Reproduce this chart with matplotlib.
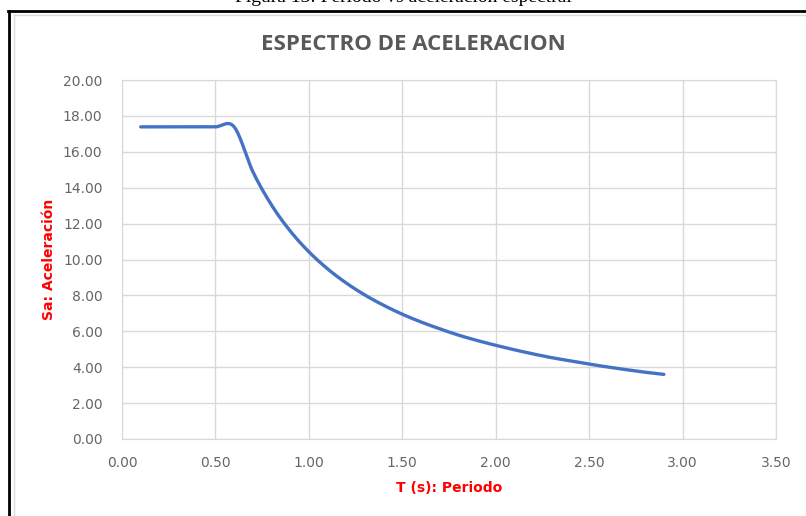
import numpy as np
import matplotlib.pyplot as plt
from matplotlib.lines import Line2D

# periodo T (s) y aceleracion espectral Sa
periodo = [0.1, 0.2, 0.3, 0.4, 0.5, 0.6, 0.7, 0.8, 0.9, 1.0,
           1.1, 1.2, 1.3, 1.4, 1.5, 1.6, 1.7, 1.8, 1.9, 2.0,
           2.1, 2.2, 2.3, 2.4, 2.5, 2.6, 2.7, 2.8, 2.9]
sa = [17.39, 17.39, 17.39, 17.39, 17.39, 17.39, 14.90, 13.04, 11.59, 10.43,
      9.48, 8.69, 8.02, 7.45, 6.95, 6.52, 6.14, 5.79, 5.49, 5.22,
      4.97, 4.74, 4.53, 4.35, 4.17, 4.01, 3.86, 3.72, 3.60]

xticks = [0.0, 0.5, 1.0, 1.5, 2.0, 2.5, 3.0, 3.5]
yticks = [0, 2, 4, 6, 8, 10, 12, 14, 16, 18, 20]


def smooth(x, y, n=20):
    # catmull-rom like excel's smoothed line
    x = np.asarray(x, float)
    y = np.asarray(y, float)
    mx, my = [], []
    for i in range(len(x) - 1):
        x0, x1 = x[i], x[i + 1]
        y0, y1 = y[i], y[i + 1]
        if i == 0:
            m0 = (y1 - y0) / (x1 - x0)
        else:
            m0 = (y1 - y[i - 1]) / (x1 - x[i - 1])
        if i == len(x) - 2:
            m1 = (y1 - y0) / (x1 - x0)
        else:
            m1 = (y[i + 2] - y0) / (x[i + 2] - x0)
        h = x1 - x0
        t = np.linspace(0, 1, n, endpoint=False)
        h00 = 2 * t**3 - 3 * t**2 + 1
        h10 = t**3 - 2 * t**2 + t
        h01 = -2 * t**3 + 3 * t**2
        h11 = t**3 - t**2
        mx.extend(x0 + t * h)
        my.extend(h00 * y0 + h10 * h * m0 + h01 * y1 + h11 * h * m1)
    mx.append(x[-1])
    my.append(y[-1])
    return np.array(mx), np.array(my)


fig = plt.figure(figsize=(8.06, 5.16), dpi=100)
ax = fig.add_axes([122 / 806, 1 - 439 / 516, 654 / 806, 359 / 516])

sx, sy = smooth(periodo, sa)
ax.plot(sx, sy, color='#4472c4', linewidth=2.4, solid_capstyle='round')

ax.set_xlim(0, 3.5)
ax.set_ylim(0, 20)
ax.set_xticks(xticks)
ax.set_yticks(yticks)
ax.set_xticklabels(['%.2f' % v for v in xticks])
ax.set_yticklabels(['%.2f' % v for v in yticks])
ax.tick_params(axis='x', length=0, colors='#666666', labelsize=10, pad=12)
ax.tick_params(axis='y', length=0, colors='#666666', labelsize=10, pad=14)
ax.grid(True, color='#d9d9d9', linewidth=1)
ax.set_axisbelow(True)
for s in ax.spines.values():
    s.set_color('#d9d9d9')

ax.set_xlabel('T (s): Periodo', color='red', fontweight='bold', fontsize=10)
ax.set_ylabel('Sa: Aceleración', color='red', fontweight='bold', fontsize=10)
ax.xaxis.set_label_coords(0.5, -0.117)
ax.yaxis.set_label_coords(-0.101, 0.5)

fig.text(413 / 806, 1 - 45 / 516, 'ESPECTRO DE ACELERACION', ha='center', va='center',
         fontsize=16, fontweight='bold', color='#595959', family='Open Sans')

# caption cortado arriba
fig.text(403 / 806, 1 - 2 / 516, 'Figura 13: Periodo vs aceleración espectral',
         ha='center', va='baseline', fontsize=14, family='Liberation Serif', color='black')

# marco
fig.add_artist(Line2D([9 / 806, 9 / 806], [0, 1 - 11 / 516], color='black', linewidth=2))
fig.add_artist(Line2D([8 / 806, 1], [1 - 11 / 516, 1 - 11 / 516], color='black', linewidth=2))
fig.add_artist(Line2D([14 / 806, 14 / 806], [0, 1 - 15 / 516], color='#d9d9d9', linewidth=1))
fig.add_artist(Line2D([14 / 806, 1], [1 - 15 / 516, 1 - 15 / 516], color='#d9d9d9', linewidth=1))

fig.savefig('out.png', dpi=100)
